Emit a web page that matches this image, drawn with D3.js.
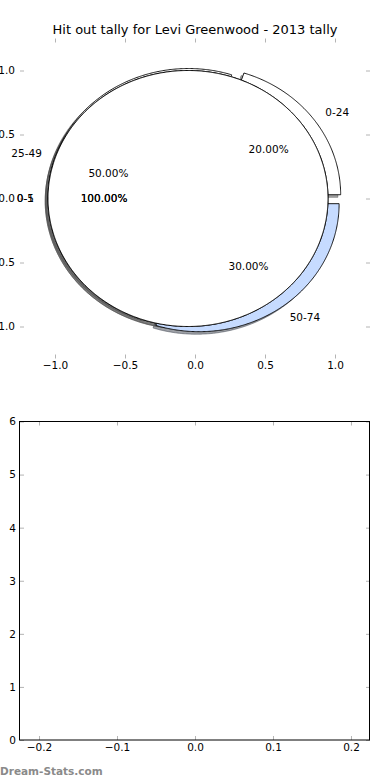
<!DOCTYPE html>
<html>
<head>
<meta charset="utf-8">
<script src="https://cdn.jsdelivr.net/npm/d3@7"></script>
<style>
  html, body { margin: 0; padding: 0; background: #fff; }
  svg { display: block; }
  text { font-family: "DejaVu Sans", sans-serif; }
</style>
</head>
<body>
<svg id="chart" width="390" height="780"></svg>
<script>
// ---------- data ----------
const chartTitle = "Hit out tally for Levi Greenwood - 2013 tally";
const rangeLabels = ["0-24", "25-49", "50-74"];
const rangeShares = [20, 50, 30];
const rangeColors = ["#ffffff", "#ffffff", "#c6dbff"];
const fullLabelsA = ["0-1"];
const fullSharesA = [100];
const fullLabelsB = ["0-5"];
const fullSharesB = [100];
const fullColors = ["#ffffff"];
const pieTicks = [-1.0, -0.5, 0.0, 0.5, 1.0];
const barXTicks = [-0.2, -0.1, 0.0, 0.1, 0.2];
const barYTicks = [0, 1, 2, 3, 4, 5, 6];
const watermark = "Dream-Stats.com";

// ---------- setup ----------
const svg = d3.select("#chart");
const explode = 0.05;
const tickColor = "#b4b4b4";
const fontSize = 10.5;

svg.append("text")
  .attr("x", 195).attr("y", 34)
  .attr("text-anchor", "middle")
  .attr("font-size", 13)
  .text(chartTitle);

// ---------- pie axes ----------
const px = d3.scaleLinear().domain([-1.25, 1.25]).range([20, 370]);
const py = d3.scaleLinear().domain([-1.25, 1.25]).range([358.5, 38.5]);

const pieAxes = svg.append("g");
function styleAxis(g, hideLabels) {
  g.select(".domain").remove();
  g.selectAll(".tick line").attr("stroke", tickColor);
  g.selectAll(".tick text").attr("font-size", fontSize).attr("fill", "#000")
    .attr("font-family", "DejaVu Sans");
  if (hideLabels) g.selectAll(".tick text").remove();
}
const fmt1 = d3.format(".1f");
pieAxes.append("g").attr("transform", `translate(0,${py(-1.25)})`)
  .call(d3.axisBottom(px).tickValues(pieTicks).tickFormat(fmt1).tickSize(-4).tickPadding(3))
  .call(g => styleAxis(g, false));
pieAxes.append("g").attr("transform", `translate(0,${py(1.25)})`)
  .call(d3.axisTop(px).tickValues(pieTicks).tickSize(-4))
  .call(g => styleAxis(g, true));
pieAxes.append("g").attr("transform", `translate(${px(-1.25)},0)`)
  .call(d3.axisLeft(py).tickValues(pieTicks).tickFormat(fmt1).tickSize(-4).tickPadding(5))
  .call(g => styleAxis(g, false));
pieAxes.append("g").attr("transform", `translate(${px(1.25)},0)`)
  .call(d3.axisRight(py).tickValues(pieTicks).tickSize(-4))
  .call(g => styleAxis(g, true));

// ---------- pies ----------
const pies = [
  { labels: rangeLabels, values: rangeShares, colors: rangeColors },
  { labels: fullLabelsA, values: fullSharesA, colors: fullColors },
  { labels: fullLabelsB, values: fullSharesB, colors: fullColors }
];

const shadowLayer = svg.append("g");
const wedgeLayer = svg.append("g");
const textLayer = svg.append("g");

const line = d3.line().x(d => px(d[0])).y(d => py(d[1]));

function wedgePoints(cx, cy, t1, t2, full) {
  const pts = [];
  const n = Math.max(8, Math.ceil((t2 - t1) / (Math.PI / 180) * 2));
  if (!full) pts.push([cx, cy]);
  for (let i = 0; i <= n; i++) {
    const t = t1 + (t2 - t1) * i / n;
    pts.push([cx + Math.cos(t), cy + Math.sin(t)]);
  }
  return pts;
}

function darker(c) {
  const r = d3.rgb(c);
  return d3.rgb(r.r * 0.3, r.g * 0.3, r.b * 0.3);
}

const pctFmt = d3.format(".2f");

pies.forEach(p => {
  const total = d3.sum(p.values);
  const arcs = d3.pie().sort(null).value(d => d)(p.values);
  arcs.forEach((a, i) => {
    const t1 = a.startAngle, t2 = a.endAngle;
    const mid = (t1 + t2) / 2;
    const cx = explode * Math.cos(mid), cy = explode * Math.sin(mid);
    const full = (t2 - t1) >= 2 * Math.PI - 1e-9;
    const pts = wedgePoints(cx, cy, t1, t2, full);
    const sh = darker(p.colors[i]);
    shadowLayer.append("path")
      .attr("d", line(pts.map(q => [q[0] - 0.02, q[1] - 0.02])) + "Z")
      .attr("fill", sh).attr("fill-opacity", 0.5)
      .attr("stroke", sh).attr("stroke-opacity", 0.5).attr("stroke-width", 1);
    wedgeLayer.append("path")
      .attr("d", line(pts) + "Z")
      .attr("fill", p.colors[i])
      .attr("stroke", "#000").attr("stroke-width", 0.9);

    const lx = cx + 1.1 * Math.cos(mid), ly = cy + 1.1 * Math.sin(mid);
    textLayer.append("text")
      .attr("x", px(lx)).attr("y", py(ly)).attr("dy", "0.36em")
      .attr("text-anchor", lx < 0 ? "end" : "start")
      .attr("font-size", fontSize)
      .text(p.labels[i]);
    const tx = cx + 0.6 * Math.cos(mid), ty = cy + 0.6 * Math.sin(mid);
    textLayer.append("text")
      .attr("x", px(tx)).attr("y", py(ty)).attr("dy", "0.36em")
      .attr("text-anchor", "middle")
      .attr("font-size", fontSize)
      .text(pctFmt(p.values[i] / total * 100) + "%");
  });
});

// ---------- empty bar axes ----------
const bx = d3.scaleLinear().domain([-0.2244, 0.2244]).range([20, 370]);
const by = d3.scaleLinear().domain([0, 6]).range([740, 421.5]);
const barAxes = svg.append("g");
barAxes.append("g").attr("transform", `translate(0,${by(0)})`)
  .call(d3.axisBottom(bx).tickValues(barXTicks).tickFormat(fmt1).tickSize(-4).tickPadding(4))
  .call(g => styleAxis(g, false));
barAxes.append("g").attr("transform", `translate(0,${by(6)})`)
  .call(d3.axisTop(bx).tickValues(barXTicks).tickSize(-4))
  .call(g => styleAxis(g, true));
barAxes.append("g").attr("transform", `translate(${bx.range()[0]},0)`)
  .call(d3.axisLeft(by).tickValues(barYTicks).tickFormat(d3.format("d")).tickSize(-4).tickPadding(4))
  .call(g => styleAxis(g, false));
barAxes.append("g").attr("transform", `translate(${bx.range()[1]},0)`)
  .call(d3.axisRight(by).tickValues(barYTicks).tickSize(-4))
  .call(g => styleAxis(g, true));
barAxes.append("rect")
  .attr("x", bx.range()[0] - 0.5).attr("y", by(6))
  .attr("width", bx.range()[1] - bx.range()[0])
  .attr("height", by(0) - by(6))
  .attr("fill", "none").attr("stroke", "#000").attr("stroke-width", 1);

svg.append("text")
  .attr("x", 0).attr("y", 775)
  .attr("font-size", 10.5).attr("font-weight", "bold")
  .attr("fill", "#8a8a8a")
  .text(watermark);
</script>
</body>
</html>
